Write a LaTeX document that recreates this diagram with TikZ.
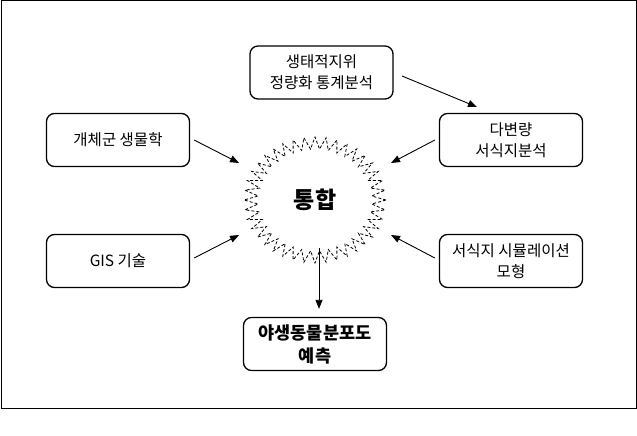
\documentclass[tikz,border=0pt]{standalone}
\usepackage{fontspec}
\setmainfont{Noto Sans CJK KR}
\usetikzlibrary{arrows.meta,calc}
\begin{document}
\begin{tikzpicture}[x=1pt,y=-1pt,
  box/.style={draw, line width=1.3pt, rounded corners=8pt, minimum width=143pt, minimum height=53pt, align=center, font=\fontsize{15.5}{21}\selectfont, inner sep=2pt},
  arr/.style={-{Triangle[length=9pt,width=7pt]}, line width=0.9pt},
  burst/.style={line width=0.8pt, dash pattern=on 3pt off 2pt}]
\useasboundingbox (0,0) rectangle (637,436);
\draw[line width=1pt] (1,1) rectangle (636,408);
\node[box] (top) at (321.5,72.5) {생태적지위\\정량화 통계분석};
\node[box] (lt) at (118,140) {개체군 생물학};
\node[box] (rt) at (511,140) {다변량\\서식지분석};
\node[box] (gis) at (118,261) {GIS 기술};
\node[box] (rb) at (511,261) {서식지 시뮬레이션\\모형};
\node[box, font=\bfseries\fontsize{17.5}{23}\selectfont] (bot) at (315,344) {야생동물분포도\\예측};
\node[circle, minimum size=96pt, inner sep=0pt, font=\bfseries\fontsize{23}{26}\selectfont] (integ) at (315,200) {통합};
\draw[burst] ($(integ.center)+(0:71pt and 63pt)$)
  foreach \i [evaluate=\i as \rx using {(mod(\i,2)==0)?71:57}, evaluate=\i as \ry using {(mod(\i,2)==0)?63:51}] in {1,...,79} { -- ($(integ.center)+(\i*4.5:\rx pt and \ry pt)$) } -- cycle;
\coordinate (e1) at (239,163);
\coordinate (e2) at (391,163);
\coordinate (e3) at (239,235);
\coordinate (e4) at (391,235);
\coordinate (s0) at (402,76);
\coordinate (e0) at (477,107);
\draw[arr] (s0) -- (e0);
\draw[arr] ([xshift=4pt]lt.east) -- (e1);
\draw[arr] ([xshift=-4pt]rt.west) -- (e2);
\draw[arr] ([xshift=4pt,yshift=3pt]gis.east) -- (e3);
\draw[arr] ([xshift=-4pt,yshift=3pt]rb.west) -- (e4);
\draw[arr, line width=0.8pt, shorten >=8pt] ([xshift=4pt]integ.south) -- ([xshift=4pt]bot.north);
\end{tikzpicture}
\end{document}
